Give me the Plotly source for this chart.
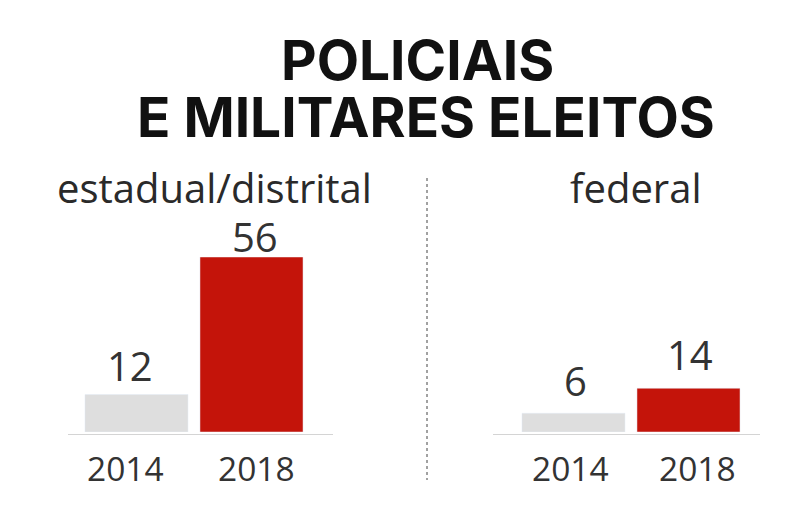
import plotly.graph_objects as go

years = ["2014", "2018"]
estadual = [12, 56]
federal = [6, 14]
colors = ["#dedede", "#c4140a"]
title_lines = ["POLICIAIS", "E MILITARES ELEITOS"]
panel_names = ["estadual/distrital", "federal"]

font = "Open Sans"
txt = "#333333"
# The page body has an 8px margin: the figure is drawn inside the remaining area.
OFF = 8
W, H = 792, 498
px = lambda x: (x - OFF) / W
py = lambda y: 1 - (y - OFF) / H

PPU = 115.0          # pixels per category step
BASE_Y, TOP_Y = 432, 257


def xaxis(x0, x1, first_center):
    return dict(domain=[px(x0), px(x1)],
                range=[(x0 - first_center) / PPU, (x1 - first_center) / PPU],
                type="category", categoryorder="array", categoryarray=years,
                showgrid=False, zeroline=False, showline=True, linecolor="#d4d4d4", linewidth=1,
                ticks="", showticklabels=False, fixedrange=True,
                anchor="free", position=py(434))


def yaxis():
    return dict(domain=[py(BASE_Y), py(TOP_Y)], range=[0, 56], visible=False, fixedrange=True)


fig = go.Figure()
fig.add_trace(go.Bar(x=years, y=estadual, marker_color=colors, xaxis="x", yaxis="y", width=0.896))
fig.add_trace(go.Bar(x=years, y=federal, marker_color=colors, xaxis="x2", yaxis="y2", width=0.896))

annotations = []


def text(x, y, s, size, color=txt, family=font):
    annotations.append(dict(text=s, x=px(x), y=py(y), xref="paper", yref="paper", showarrow=False,
                            xanchor="center", yanchor="middle", font=dict(size=size, color=color, family=family)))


text(418, 60, f"<b>{title_lines[0]}</b>", 55, "#111111", "Inter")
text(425.5, 117, f"<b>{title_lines[1]}</b>", 55, "#111111", "Inter")
text(214.5, 187, panel_names[0], 40, "#2a2a2a")
text(636, 187, panel_names[1], 40, "#2a2a2a")

panels = [("x", "y", estadual, [-7, 3], [-2, -11], [-11, 5]),
          ("x2", "y2", federal, [2, 1], [1, 2], [-3, 9])]
for xr, yr, vals, val_dx, val_dy, tick_dx in panels:
    for i, (yr_label, v, dx, dy, ts) in enumerate(zip(years, vals, val_dx, val_dy, tick_dx)):
        annotations.append(dict(text=str(v), x=i, y=v, xref=xr, yref=yr, showarrow=False, xanchor="center",
                                yanchor="bottom", xshift=dx, yshift=dy + 2,
                                font=dict(size=40, color=txt, family=font)))
        annotations.append(dict(text=yr_label, x=i, y=0, xref=xr, yref=yr, showarrow=False, xanchor="center",
                                yanchor="middle", xshift=ts, yshift=-36,
                                font=dict(size=33.5, color=txt, family=font)))

fig.update_layout(
    width=W, height=H, margin=dict(l=0, r=0, t=0, b=0), showlegend=False,
    plot_bgcolor="white", paper_bgcolor="white",
    xaxis=xaxis(68, 333, 136.5), yaxis=yaxis(),
    xaxis2=dict(xaxis(493, 760, 573.5)), yaxis2=dict(yaxis()),
    annotations=annotations,
    shapes=[dict(type="line", xref="paper", yref="paper", x0=px(427), x1=px(427), y0=py(178), y1=py(480),
                 line=dict(color="#444444", width=1, dash="dot"))],
)
fig.write_html("out.html")
